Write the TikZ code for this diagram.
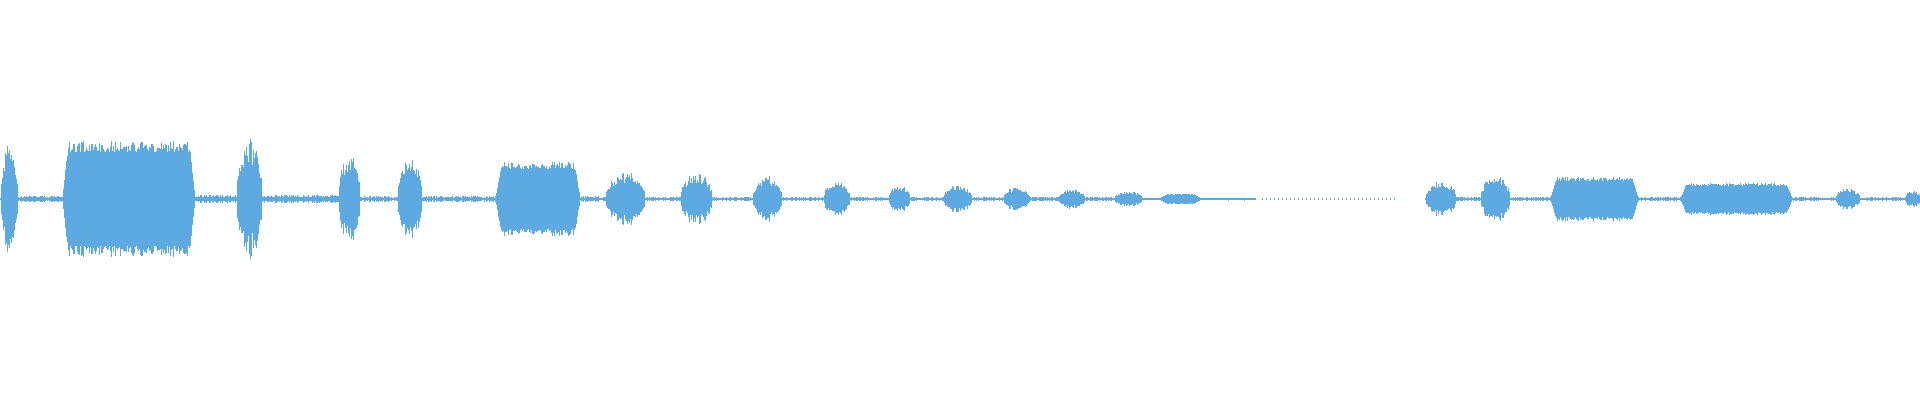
\documentclass[tikz,border=0pt]{standalone}
\usepackage{xcolor}
\definecolor{wavecol}{RGB}{93,170,226}
\tikzset{wave/.style={draw=wavecol,line width=0.7pt}}
% bursts: rounded envelope
\newcommand\wburst[3]{\foreach \i in {#1,...,#2}{
  \pgfmathsetmacro\h{#3*sqrt(sin(180*(\i-#1)/(#2-#1)))*(0.55+0.45*rnd)+1}
  \draw[wave] (\i,199-\h) -- (\i,199+\h);}}
% blocks: flat envelope with short ramps
\newcommand\wblock[3]{\foreach \i in {#1,...,#2}{
  \pgfmathsetmacro\h{#3*min(1,min((\i-#1)/6,(#2-\i)/6))*(0.8+0.2*rnd)+1}
  \draw[wave] (\i,199-\h) -- (\i,199+\h);}}
% quiet stretches
\newcommand\wquiet[3]{\foreach \i in {#1,...,#2}{
  \pgfmathsetmacro\h{#3*(0.4+0.6*rnd)}
  \draw[wave,line width=0.5pt] (\i,199-\h) -- (\i,199+\h);}}
\begin{document}
\begin{tikzpicture}[x=1pt,y=1pt,yscale=-1]
\pgfmathsetseed{7}
\useasboundingbox (0,0) rectangle (1920,400);
\wburst{0}{18}{55}
\wquiet{18}{62}{3}
\wblock{62}{195}{57}
\wquiet{195}{236}{4}
\wburst{236}{262}{60}
\wquiet{262}{338}{4}
\wburst{338}{360}{44}
\wquiet{360}{397}{3}
\wburst{397}{422}{46}
\wquiet{422}{495}{3}
\wblock{495}{580}{36}
\wquiet{580}{605}{3}
\wburst{605}{645}{26}
\wquiet{645}{680}{2}
\wburst{680}{712}{26}
\wquiet{712}{752}{2}
\wburst{752}{782}{22}
\wquiet{782}{823}{2}
\wburst{823}{850}{17}
\wquiet{850}{888}{2}
\wburst{888}{910}{13}
\wquiet{910}{943}{2}
\wburst{943}{972}{13}
\wquiet{972}{1003}{2}
\wburst{1003}{1030}{11}
\wquiet{1030}{1058}{2}
\wburst{1058}{1085}{9}
\wquiet{1085}{1114}{2}
\wburst{1114}{1142}{7}
\wquiet{1142}{1160}{1.5}
\wblock{1160}{1200}{4}
\wquiet{1200}{1255}{1.5}
\foreach \i in {1262,1266,...,1395}{\draw[wave,line width=0.5pt] (\i,198) -- (\i,200);}
\wburst{1425}{1456}{18}
\wquiet{1456}{1480}{2}
\wburst{1480}{1510}{23}
\wquiet{1510}{1550}{2}
\wblock{1550}{1638}{21}
\wquiet{1638}{1680}{2}
\wblock{1680}{1792}{15}
\wquiet{1792}{1835}{2}
\wburst{1835}{1860}{10}
\wquiet{1860}{1905}{2}
\wburst{1905}{1920}{8}
\end{tikzpicture}
\end{document}
